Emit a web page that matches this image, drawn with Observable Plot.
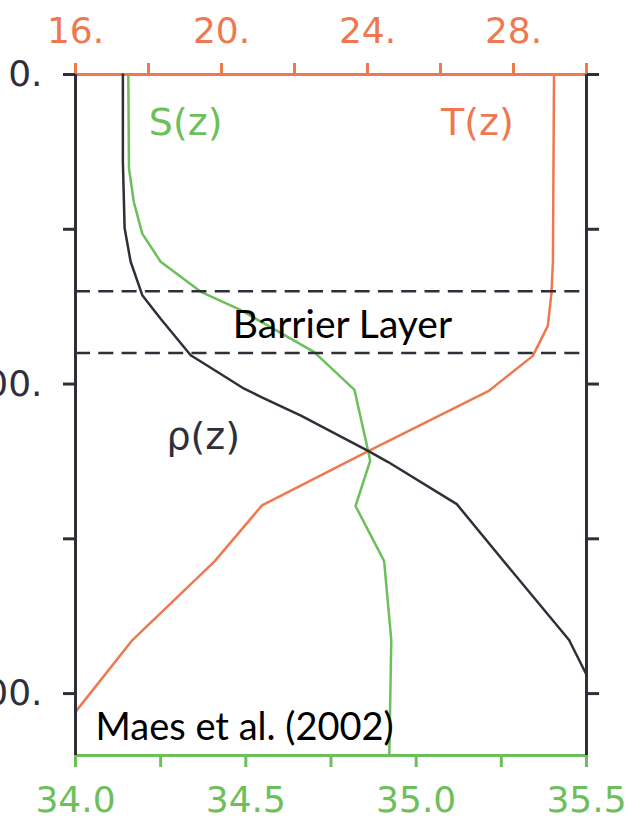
<!DOCTYPE html>
<html>
<head>
<meta charset="utf-8">
<script src="https://cdn.jsdelivr.net/npm/d3@7"></script>
<script src="https://cdn.jsdelivr.net/npm/@observablehq/plot@0.6"></script>
<style>
  body { margin: 0; background: #fff; }
  #chart { position: relative; width: 633px; height: 819px; overflow: hidden; background: #fff; }
  #chart svg { position: absolute; left: 0; top: 0; overflow: visible; }
</style>
</head>
<body>
<div id="chart"></div>
<script>
// Temperature profile T(z), °C
const tempDepth = [0, 60.5, 70.6, 81.2, 90.9, 102.3, 121.7, 139.2, 157.3, 182.7, 205.9];
const tempValue = [29.11, 29.08, 29.04, 28.94, 28.53, 27.31, 24.02, 21.11, 19.81, 17.56, 16.0];

// Salinity profile S(z), psu
const salDepth = [0, 30.3, 41.1, 51.4, 60.5, 70.2, 75.6, 89.6, 101.9, 121.6, 124.8, 139.4, 157.2, 182.7, 220];
const salValue = [34.155, 34.157, 34.171, 34.196, 34.25, 34.368, 34.476, 34.70, 34.819, 34.859, 34.865, 34.822, 34.906, 34.927, 34.921];

// Density profile rho(z), sigma units
const rhoDepth = [0, 28.2, 49.7, 60.5, 71.3, 78.9, 90.7, 96.1, 101.5, 104.2, 110.2, 121.6, 125.2, 138.8, 156.6, 182.7, 193.9];
const rhoValue = [21.508, 21.508, 21.523, 21.575, 21.675, 21.833, 22.092, 22.323, 22.552, 22.70, 23.041, 23.619, 23.792, 24.383, 24.773, 25.35, 25.5];

// Axis ticks
const depthTicks = [0, 50, 100, 150, 200];
const depthLabels = [0, 100, 200];
const tempTicks = [16, 18, 20, 22, 24, 26, 28, 30];
const tempLabels = [16, 20, 24, 28];
const salTicks = [34.0, 34.25, 34.5, 34.75, 35.0, 35.25, 35.5];
const salLabels = [34.0, 34.5, 35.0, 35.5];

// Barrier layer bounds (m)
const barrierTop = 70;
const barrierBottom = 90;

const orange = "#f07850";
const green = "#6dbf5b";
const dark = "#2f2f3a";
const tickFont = "'DejaVu Sans', sans-serif";
const textFont = "Lato, 'Open Sans', sans-serif";

const temp = tempDepth.map((z, i) => ({z, v: tempValue[i]}));
const sal = salDepth.map((z, i) => ({z, v: salValue[i]}));
const rho = rhoDepth.map((z, i) => ({z, v: rhoValue[i]}));

const frame = {
  width: 633, height: 819,
  marginLeft: 75, marginRight: 47, marginTop: 74, marginBottom: 64,
  style: {background: "transparent", fontFamily: tickFont, fontSize: "36px"}
};
const depthScale = {domain: [0, 220], reverse: true};

// Salinity layer: bottom axis
const salPlot = Plot.plot({
  ...frame,
  x: {domain: [34.0, 35.5]},
  y: {...depthScale, axis: null},
  marks: [
    Plot.ruleY([220], {stroke: green, strokeWidth: 3}),
    Plot.axisX({
      anchor: "bottom", ticks: salTicks, tickSize: 12, tickPadding: 19,
      tickFormat: d => salLabels.some(l => Math.abs(l - d) < 1e-9) ? d3.format(".1f")(d) : "",
      color: green, strokeWidth: 3, fontSize: 36, fontFamily: tickFont, label: null
    }),
    Plot.line(sal, {x: "v", y: "z", stroke: green, strokeWidth: 2.5}),
    Plot.text(["S(z)"], {x: 34.3235, y: 15.7, text: d => d, fill: green, fontSize: 38, fontFamily: tickFont})
  ]
});

// Temperature layer: top axis
const tempPlot = Plot.plot({
  ...frame,
  x: {domain: [16, 30]},
  y: {...depthScale, axis: null},
  marks: [
    Plot.ruleY([0], {stroke: orange, strokeWidth: 3}),
    Plot.axisX({
      anchor: "top", ticks: tempTicks, tickSize: 12, tickPadding: 20,
      tickFormat: d => tempLabels.includes(d) ? d + "." : "",
      color: orange, strokeWidth: 3, fontSize: 36, fontFamily: tickFont, label: null
    }),
    Plot.line(temp, {x: "v", y: "z", stroke: orange, strokeWidth: 2.5}),
    Plot.text(["T(z)"], {x: 27.01, y: 15.7, text: d => d, fill: orange, fontSize: 38, fontFamily: tickFont})
  ]
});

// Density layer: side axes, barrier layer and annotations
const rhoPlot = Plot.plot({
  ...frame,
  x: {domain: [21.1, 25.5], axis: null},
  y: depthScale,
  marks: [
    Plot.ruleY([barrierTop, barrierBottom], {stroke: dark, strokeWidth: 2.5, strokeDasharray: "15,8.3"}),
    Plot.ruleX([21.1, 25.5], {stroke: dark, strokeWidth: 3}),
    Plot.axisY({
      anchor: "left", ticks: depthTicks, tickSize: 12, tickPadding: 21,
      tickFormat: d => depthLabels.includes(d) ? d + "." : "",
      color: dark, strokeWidth: 3, fontSize: 36, fontFamily: tickFont, label: null
    }),
    Plot.axisY({
      anchor: "right", ticks: depthTicks, tickSize: 12,
      tickFormat: () => "", color: dark, strokeWidth: 3, label: null
    }),
    Plot.line(rho, {x: "v", y: "z", stroke: dark, strokeWidth: 2.5}),
    Plot.text(["ρ(z)"], {x: 22.2, y: 117.0, text: d => d, fill: dark, fontSize: 38, fontFamily: tickFont}),
    Plot.text(["Barrier Layer"], {x: 22.455, y: 81.0, text: d => d, textAnchor: "start", fill: "#000", fontSize: 39, fontFamily: textFont}),
    Plot.text(["Maes et al. (2002)"], {x: 21.273, y: 211.2, text: d => d, textAnchor: "start", fill: "#000", fontSize: 38, fontFamily: textFont})
  ]
});

document.getElementById("chart").append(salPlot, tempPlot, rhoPlot);
</script>
</body>
</html>
